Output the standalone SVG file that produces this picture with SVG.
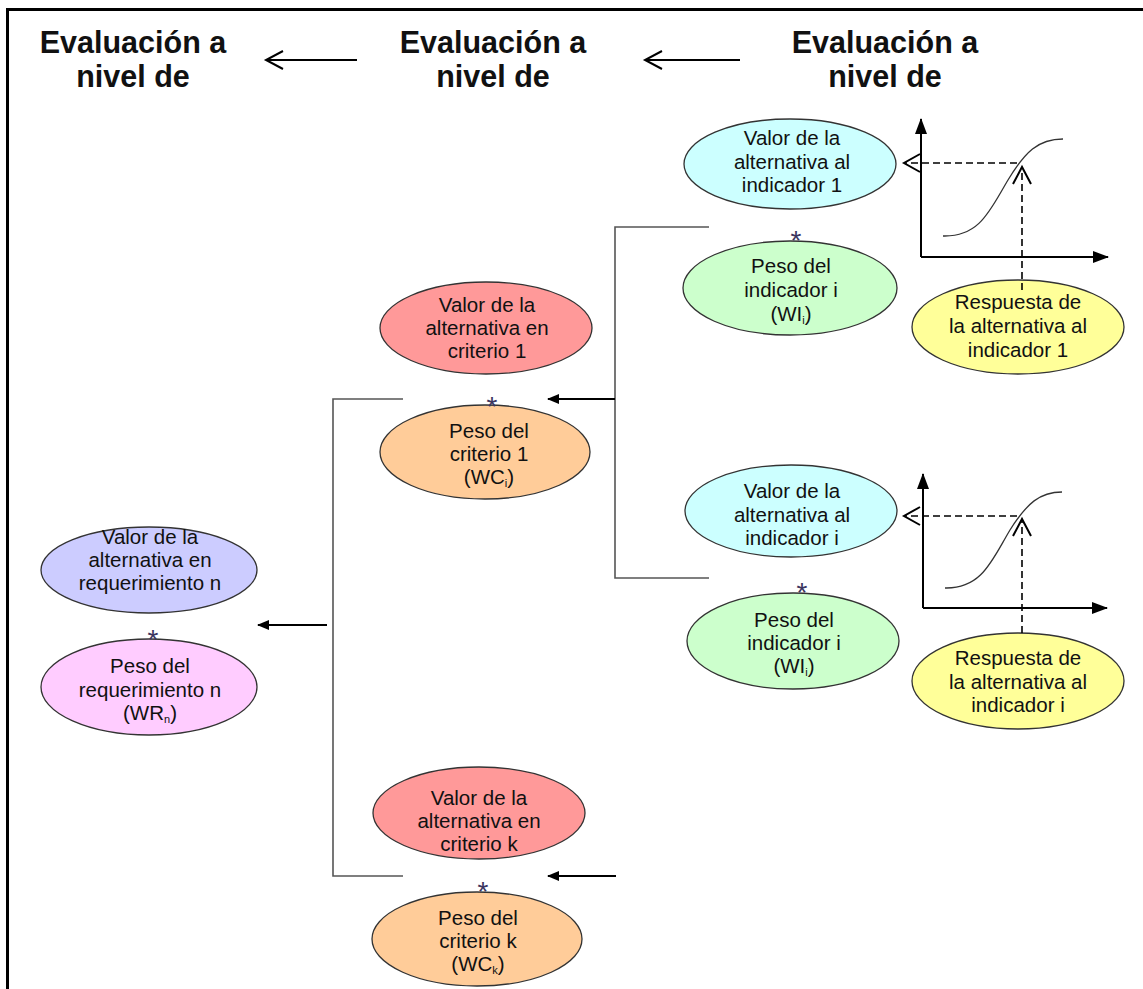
<svg xmlns="http://www.w3.org/2000/svg" width="1143" height="989" viewBox="0 0 1143 989">
  <style>
    .node ellipse { stroke: #333; stroke-width: 1.3; }
    .node text { font-family: "Liberation Sans", Arial, sans-serif; font-size: 20.5px; fill: #111; text-anchor: middle; }
    .sub { font-size: 11px; }
    .head { font-family: "Liberation Sans", Arial, sans-serif; font-weight: bold; font-size: 30.5px; fill: #111; text-anchor: middle; }
    .star { font-family: "Liberation Sans", Arial, sans-serif; font-size: 28px; fill: #3b3560; text-anchor: middle; }
    .bracket { fill: none; stroke: #555; stroke-width: 1.6; }
    .arrow { fill: none; stroke: #000; stroke-width: 2; }
    .open { fill: none; stroke: #000; stroke-width: 2; }
    .dash { fill: none; stroke: #000; stroke-width: 1.6; stroke-dasharray: 7 4; }
    .axis { fill: none; stroke: #000; stroke-width: 2; }
    .curve { fill: none; stroke: #333; stroke-width: 1.3; }
    .cyan { fill: #ccffff; } .green { fill: #ccffcc; } .yellow { fill: #ffff99; }
    .red { fill: #ff9999; } .orange { fill: #ffcc99; } .purple { fill: #ccccff; } .pink { fill: #ffccff; }
  </style>
  <defs>
    <marker id="solid" viewBox="0 0 12 10" refX="11" refY="5" markerWidth="12" markerHeight="10" markerUnits="userSpaceOnUse" orient="auto">
      <path d="M0,0 L12,5 L0,10 Z" fill="#000"/>
    </marker>
    <marker id="axisHead" viewBox="0 0 16 12" refX="15" refY="6" markerWidth="16" markerHeight="12" markerUnits="userSpaceOnUse" orient="auto">
      <path d="M0,0 L16,6 L0,12 Z" fill="#000"/>
    </marker>
  </defs>

  <!-- frame: top and left rules -->
  <path d="M7.5,989 V9.5 H1143" fill="none" stroke="#000" stroke-width="3"/>

  <!-- level headings -->
  <g id="heading-1">
    <text class="head" x="133" y="53">Evaluación a</text>
    <text class="head" x="133" y="87">nivel de</text>
  </g>
  <g id="heading-2">
    <text class="head" x="493" y="53">Evaluación a</text>
    <text class="head" x="493" y="87">nivel de</text>
  </g>
  <g id="heading-3">
    <text class="head" x="885" y="53">Evaluación a</text>
    <text class="head" x="885" y="87">nivel de</text>
  </g>

  <!-- charts: value functions -->
  <g id="chart-1">
    <path class="axis" d="M921,257 V119" marker-end="url(#axisHead)"/>
    <path class="axis" d="M921,257 H1108" marker-end="url(#axisHead)"/>
    <path class="curve" d="M943,236 C980,237 990,210 1008,180 C1025,152 1038,139 1063,139"/>
  </g>
  <g id="chart-2">
    <path class="axis" d="M923,608 V474" marker-end="url(#axisHead)"/>
    <path class="axis" d="M923,608 H1107" marker-end="url(#axisHead)"/>
    <path class="curve" d="M945,588 C982,589 992,560 1010,530 C1027,503 1040,492 1062,492"/>
  </g>

  <!-- nodes -->
  <g id="valor-indicador-1" class="node">
    <ellipse class="cyan" cx="790" cy="164" rx="106" ry="45"/>
    <text x="792" y="145">Valor de la</text>
    <text x="792" y="168.5">alternativa al</text>
    <text x="792" y="192">indicador 1</text>
  </g>
  <g id="peso-indicador-1" class="node">
    <ellipse class="green" cx="790" cy="288" rx="107" ry="47"/>
    <text x="791" y="273">Peso del</text>
    <text x="791" y="297">indicador i</text>
    <text x="791" y="321">(WI<tspan class="sub" dy="3">i</tspan><tspan dy="-3">)</tspan></text>
  </g>
  <g id="respuesta-indicador-1" class="node">
    <ellipse class="yellow" cx="1018" cy="327" rx="106" ry="47"/>
    <text x="1018" y="309">Respuesta de</text>
    <text x="1018" y="333">la alternativa al</text>
    <text x="1018" y="357">indicador 1</text>
  </g>

  <g id="valor-indicador-i" class="node">
    <ellipse class="cyan" cx="791" cy="511" rx="106" ry="46"/>
    <text x="792" y="498">Valor de la</text>
    <text x="792" y="521.5">alternativa al</text>
    <text x="792" y="545">indicador i</text>
  </g>
  <g id="peso-indicador-i" class="node">
    <ellipse class="green" cx="793" cy="641" rx="106" ry="48"/>
    <text x="794" y="627">Peso del</text>
    <text x="794" y="650">indicador i</text>
    <text x="794" y="673">(WI<tspan class="sub" dy="3">i</tspan><tspan dy="-3">)</tspan></text>
  </g>
  <g id="respuesta-indicador-i" class="node">
    <ellipse class="yellow" cx="1018" cy="681" rx="106" ry="48"/>
    <text x="1018" y="665">Respuesta de</text>
    <text x="1018" y="689">la alternativa al</text>
    <text x="1018" y="712">indicador i</text>
  </g>

  <g id="valor-criterio-1" class="node">
    <ellipse class="red" cx="486" cy="328" rx="106" ry="46"/>
    <text x="487" y="312">Valor de la</text>
    <text x="487" y="335">alternativa en</text>
    <text x="487" y="358">criterio 1</text>
  </g>
  <g id="peso-criterio-1" class="node">
    <ellipse class="orange" cx="485" cy="452" rx="105" ry="47"/>
    <text x="489" y="438">Peso del</text>
    <text x="489" y="461">criterio 1</text>
    <text x="489" y="484">(WC<tspan class="sub" dy="3">i</tspan><tspan dy="-3">)</tspan></text>
  </g>

  <g id="valor-criterio-k" class="node">
    <ellipse class="red" cx="479" cy="813" rx="106" ry="46"/>
    <text x="479" y="805">Valor de la</text>
    <text x="479" y="828">alternativa en</text>
    <text x="479" y="851">criterio k</text>
  </g>
  <g id="peso-criterio-k" class="node">
    <ellipse class="orange" cx="477" cy="939" rx="105" ry="47"/>
    <text x="478" y="925">Peso del</text>
    <text x="478" y="948">criterio k</text>
    <text x="478" y="971">(WC<tspan class="sub" dy="3">k</tspan><tspan dy="-3">)</tspan></text>
  </g>

  <g id="valor-requerimiento-n" class="node">
    <ellipse class="purple" cx="149" cy="570" rx="108" ry="43"/>
    <text x="150" y="544">Valor de la</text>
    <text x="150" y="567">alternativa en</text>
    <text x="150" y="590">requerimiento n</text>
  </g>
  <g id="peso-requerimiento-n" class="node">
    <ellipse class="pink" cx="149" cy="687" rx="108" ry="48"/>
    <text x="150" y="673">Peso del</text>
    <text x="150" y="697">requerimiento n</text>
    <text x="150" y="720">(WR<tspan class="sub" dy="3">n</tspan><tspan dy="-3">)</tspan></text>
  </g>

  <!-- product signs between value and weight -->
  <g id="products">
    <text class="star" x="796" y="250">*</text>
    <text class="star" x="802" y="602">*</text>
    <text class="star" x="492" y="416">*</text>
    <text class="star" x="483" y="901">*</text>
    <text class="star" x="153" y="649">*</text>
  </g>

  <!-- connectors -->
  <g id="connectors">
    <!-- heading flow -->
    <path class="arrow" d="M357,60 H266"/>
    <path class="open" d="M283,51 L266,60 L283,69"/>
    <path class="arrow" d="M740,60 H645"/>
    <path class="open" d="M662,51 L645,60 L662,69"/>

    <!-- indicator group bracket and aggregation to criterio 1 -->
    <path class="bracket" d="M709,227 H615 V578 H709"/>
    <path class="arrow" d="M615,399 H548" marker-end="url(#solid)"/>

    <!-- criterio group bracket and aggregation to requerimiento n -->
    <path class="bracket" d="M403,399 H333 V876 H403"/>
    <path class="arrow" d="M327,625 H258" marker-end="url(#solid)"/>

    <!-- incoming to criterio k -->
    <path class="arrow" d="M616,876 H548" marker-end="url(#solid)"/>

    <!-- value function readings -->
    <path class="dash" d="M1022,290 V167"/>
    <path class="open" d="M1013,184 L1022,167 L1031,184" stroke-width="1.6"/>
    <path class="dash" d="M1017,163 H904"/>
    <path class="open" d="M920,154 L904,163 L920,172" stroke-width="1.6"/>

    <path class="dash" d="M1022,633 V519"/>
    <path class="open" d="M1013,536 L1022,519 L1031,536" stroke-width="1.6"/>
    <path class="dash" d="M1017,516 H904"/>
    <path class="open" d="M920,507 L904,516 L920,525" stroke-width="1.6"/>
  </g>
</svg>
